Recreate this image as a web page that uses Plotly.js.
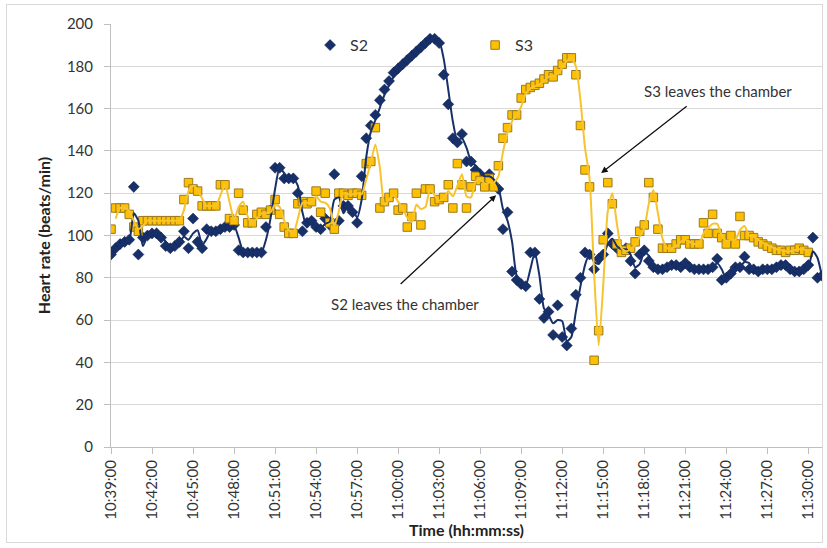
<!DOCTYPE html>
<html>
<head>
<meta charset="utf-8">
<script src="https://cdn.plot.ly/plotly-3.0.1.min.js"></script>
<style>
  html, body { margin: 0; padding: 0; background: #fff; }
  #wrap { position: relative; width: 827px; height: 548px; }
  #chart { width: 827px; height: 548px; }
  #frame { position: absolute; left: 6px; top: 4px; width: 817px; height: 539px;
           border: 1px solid #d9d9d9; pointer-events: none; box-sizing: border-box; }
</style>
</head>
<body>
<div id="wrap"><div id="chart"></div><div id="frame"></div></div>
<script>
// Sample times (every 20 s)
const times = [
'10:39:00','10:39:20','10:39:40','10:40:00','10:40:20','10:40:40',
'10:41:00','10:41:20','10:41:40','10:42:00','10:42:20','10:42:40',
'10:43:00','10:43:20','10:43:40','10:44:00','10:44:20','10:44:40',
'10:45:00','10:45:20','10:45:40','10:46:00','10:46:20','10:46:40',
'10:47:00','10:47:20','10:47:40','10:48:00','10:48:20','10:48:40',
'10:49:00','10:49:20','10:49:40','10:50:00','10:50:20','10:50:40',
'10:51:00','10:51:20','10:51:40','10:52:00','10:52:20','10:52:40',
'10:53:00','10:53:20','10:53:40','10:54:00','10:54:20','10:54:40',
'10:55:00','10:55:20','10:55:40','10:56:00','10:56:20','10:56:40',
'10:57:00','10:57:20','10:57:40','10:58:00','10:58:20','10:58:40',
'10:59:00','10:59:20','10:59:40','11:00:00','11:00:20','11:00:40',
'11:01:00','11:01:20','11:01:40','11:02:00','11:02:20','11:02:40',
'11:03:00','11:03:20','11:03:40','11:04:00','11:04:20','11:04:40',
'11:05:00','11:05:20','11:05:40','11:06:00','11:06:20','11:06:40',
'11:07:00','11:07:20','11:07:40','11:08:00','11:08:20','11:08:40',
'11:09:00','11:09:20','11:09:40','11:10:00','11:10:20','11:10:40',
'11:11:00','11:11:20','11:11:40','11:12:00','11:12:20','11:12:40',
'11:13:00','11:13:20','11:13:40','11:14:00','11:14:20','11:14:40',
'11:15:00','11:15:20','11:15:40','11:16:00','11:16:20','11:16:40',
'11:17:00','11:17:20','11:17:40','11:18:00','11:18:20','11:18:40',
'11:19:00','11:19:20','11:19:40','11:20:00','11:20:20','11:20:40',
'11:21:00','11:21:20','11:21:40','11:22:00','11:22:20','11:22:40',
'11:23:00','11:23:20','11:23:40','11:24:00','11:24:20','11:24:40',
'11:25:00','11:25:20','11:25:40','11:26:00','11:26:20','11:26:40',
'11:27:00','11:27:20','11:27:40','11:28:00','11:28:20','11:28:40',
'11:29:00','11:29:20','11:29:40','11:30:00','11:30:20','11:30:40',
'11:31:00'];

// Heart rate S2 (beats/min)
const s2 = [
 91, 94, 96,  97, 98,123,  91, 99,100, 101,101, 99,  95, 94, 95,
 97,102, 94, 108, 97, 94, 103,102,102, 103,104,104, 105, 93, 92,
 92, 92, 92,  92,104,112, 132,132,127, 127,127,120, 102,106,107,
104,103,108, 105,129,107, 114,114,111, 106,128,146, 152,157,164,
169,173,177, 179,181,183, 185,187,189, 191,193,193, 191,176,162,
146,144,148, 135,135,131, 129,127,129, 124,122,103, 111, 83, 79,
 77, 76, 92,  92, 70, 61,  64, 53, 67,  52, 48, 56,  72, 80, 92,
 91, 84, 89,  91,101, 96,  94, 93, 94,  88, 82, 91,  93, 88, 85,
 84, 84, 85,  86, 86, 85,  87, 85, 84,  84, 84, 84,  85, 89, 79,
 80, 82, 85,  85, 90, 84,  84, 83, 84,  84, 84, 85,  86, 86, 84,
 83, 83, 84,  86, 99, 80,  81];

// Heart rate S3 (beats/min)
const s3 = [
103,113,113, 113,110,104, 102,107,107, 107,107,107, 107,107,107,
107,117,125, 122,121,114, 114,114,114, 124,124,108, 107,120,112,
106,106,110, 111,110,112, 117,110,104, 101,101,115, 116,115,116,
121,111,120, 106,103,120, 120,119,120, 120,119,134, 135,151,113,
116,118,120, 112,113,104, 109,120,105, 122,122,116, 117,118,124,
113,134,124, 113,123,128, 126,123,127, 123,133,146, 151,157,157,
165,169,170, 171,172,174, 176,175,178, 181,184,184, 176,152,131,
123, 41, 55,  98,125,115,  96, 92, 93,  94, 97,102, 105,125,118,
103, 94, 94,  94, 96, 98,  98, 96, 96,  96,106,101, 110,101, 99,
 96,100, 96, 109,100,100,  99, 97, 96,  95, 94, 93,  93, 92, 93,
 93, 94, 93,  92];

const seriesNames = ['S2', 'S3'];
const yTitle = 'Heart rate (beats/min)';
const xTitle = 'Time (hh:mm:ss)';
const note2 = 'S2 leaves the chamber';
const note3 = 'S3 leaves the chamber';

const day = '2000-01-01 ';
const X = times.map(t => day + t);

// two-point moving average (trend line drawn through the markers)
function movingAvg(v) {
  const out = [];
  for (let i = 1; i < v.length; i++) out.push((v[i - 1] + v[i]) / 2);
  return out;
}

const navy = '#17306a';
const gold = '#FFC000';
const font = 'Lato, "Open Sans", sans-serif';

const traces = [
  { x: X.slice(0, s2.length), y: s2, name: seriesNames[0], type: 'scatter', mode: 'markers',
    marker: { symbol: 'diamond', size: 8.5, color: navy, line: { width: 0.5, color: '#0d1d45' } } },
  { x: X.slice(0, s3.length), y: s3, name: seriesNames[1], type: 'scatter', mode: 'markers',
    marker: { symbol: 'square', size: 8.5, color: gold, line: { width: 1, color: '#9a7a20' } } },
  { x: X.slice(1, s2.length), y: movingAvg(s2), type: 'scatter', mode: 'lines', showlegend: false,
    hoverinfo: 'skip', line: { color: navy, width: 2, shape: 'spline', smoothing: 0.6 } },
  { x: X.slice(1, s3.length), y: movingAvg(s3), type: 'scatter', mode: 'lines', showlegend: false,
    hoverinfo: 'skip', line: { color: '#F7C32E', width: 2, shape: 'spline', smoothing: 0.6 } }
];

const layout = {
  width: 827, height: 548,
  margin: { l: 111, r: 5, t: 24, b: 101 },
  paper_bgcolor: '#fff', plot_bgcolor: '#fff',
  font: { family: font, color: '#333' },
  showlegend: true,
  legend: { orientation: 'h', x: 0.28, xanchor: 'left', y: 0.95, yanchor: 'middle',
            entrywidth: 120, entrywidthmode: 'pixels', font: { size: 16, color: '#333' },
            bgcolor: 'rgba(0,0,0,0)', traceorder: 'normal' },
  xaxis: {
    type: 'date', range: [day + '10:39:00', day + '11:31:00'],
    tick0: day + '10:39:00', dtick: 180000, tickformat: '%H:%M:%S', tickangle: -90,
    ticks: 'outside', ticklen: 6, tickcolor: '#bfbfbf', showline: true, linecolor: '#bfbfbf',
    showgrid: false, zeroline: false, tickfont: { size: 15, color: '#333' },
    title: { text: xTitle, font: { size: 16, weight: 'bold', color: '#222' }, standoff: 5 }
  },
  yaxis: {
    range: [0, 200], dtick: 20, ticks: 'outside', ticklen: 6, tickcolor: '#bfbfbf',
    showline: true, linecolor: '#bfbfbf', gridcolor: '#d9d9d9', zeroline: false,
    tickfont: { size: 15, color: '#333' }, ticklabelstandoff: 8,
    title: { text: yTitle, font: { size: 16, weight: 'bold', color: '#222' }, standoff: 12 }
  },
  annotations: [
    { x: day + '11:00:30', y: 67.5, text: note2, showarrow: false, font: { size: 15, color: '#333' } },
    { x: day + '11:23:24', y: 168.5, text: note3, showarrow: false, font: { size: 15, color: '#333' } },
    { x: day + '11:07:10', y: 119, text: '', showarrow: true, ax: -97, ay: 90,
      arrowhead: 2, arrowsize: 1, arrowwidth: 1.3, arrowcolor: '#111', standoff: 0 },
    { x: day + '11:14:51', y: 129.5, text: '', showarrow: true, ax: 87, ay: -68,
      arrowhead: 2, arrowsize: 1, arrowwidth: 1.3, arrowcolor: '#111', standoff: 0 }
  ]
};

Plotly.newPlot('chart', traces, layout, { displayModeBar: false, staticPlot: true });
</script>
</body>
</html>
